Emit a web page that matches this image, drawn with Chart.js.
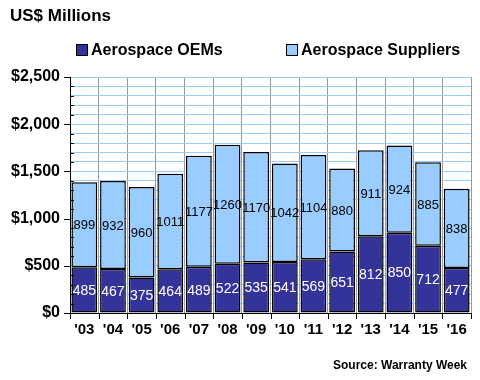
<!DOCTYPE html>
<html>
<head>
<meta charset="utf-8">
<script src="https://cdn.jsdelivr.net/npm/chart.js@4/dist/chart.umd.min.js"></script>
<style>
  html, body { margin: 0; padding: 0; background: #fff; }
  #wrap { position: relative; width: 480px; height: 380px; font-family: Arial, "Liberation Sans", sans-serif; }
  #chart { position: absolute; left: 0; top: 0; }
  .title { position: absolute; left: 10px; top: 6px; font-weight: bold; font-size: 17px; color: #000; }
  .legend { position: absolute; top: 41px; font-weight: bold; font-size: 16px; color: #000; display: flex; align-items: center; }
  .legend span.box { display: inline-block; width: 10px; height: 10px; border: 1px solid #000; margin-right: 3px; }
  .source { position: absolute; left: 333px; top: 358px; font-weight: bold; font-size: 12px; color: #000; }
</style>
</head>
<body>
<div id="wrap">
  <canvas id="chart" width="480" height="380"></canvas>
  <div class="title">US$ Millions</div>
  <div class="legend" style="left:76px"><span class="box" style="background:#333399"></span>Aerospace OEMs</div>
  <div class="legend" style="left:286px"><span class="box" style="background:#99ccff"></span>Aerospace Suppliers</div>
  <div class="source">Source: Warranty Week</div>
</div>
<script>
const years = ["'03", "'04", "'05", "'06", "'07", "'08", "'09", "'10", "'11", "'12", "'13", "'14", "'15", "'16"]
const oems = [485, 467, 375, 464, 489, 522, 535, 541, 569, 651, 812, 850, 712, 477]
const suppliers = [899, 932, 960, 1011, 1177, 1260, 1170, 1042, 1104, 880, 911, 924, 885, 838]
const yMax = 2500

const fontFamily = "Arial, 'Liberation Sans', sans-serif"

// value labels centered in each stacked segment
const segmentLabels = {
  id: "segmentLabels",
  afterDatasetsDraw(chart) {
    const ctx = chart.ctx
    ctx.save()
    ctx.textAlign = "center"
    ctx.textBaseline = "middle"
    chart.data.datasets.forEach((ds, di) => {
      const meta = chart.getDatasetMeta(di)
      meta.data.forEach((bar, i) => {
        const mid = (bar.y + bar.base) / 2
        ctx.fillStyle = di === 0 ? "#ffffff" : "#000000"
        ctx.font = (di === 0 ? "14px " : "13px ") + fontFamily
        ctx.fillText(String(ds.data[i]), bar.x, mid + 1)
      })
    })
    ctx.restore()
  }
}

// axis lines and tick marks in the old spreadsheet style
const axisTicks = {
  id: "axisTicks",
  afterDraw(chart) {
    const { ctx, chartArea: a, scales } = chart
    const y = scales.y
    ctx.save()
    ctx.strokeStyle = "#000"
    ctx.lineWidth = 1
    ctx.beginPath()
    ctx.moveTo(a.left + 0.5, a.top)
    ctx.lineTo(a.left + 0.5, a.bottom + 6)
    ctx.moveTo(a.left, a.bottom + 0.5)
    ctx.lineTo(a.right, a.bottom + 0.5)
    for (let v = 0; v <= yMax; v += 100) {
      const py = Math.round(y.getPixelForValue(v)) + 0.5
      if (v % 500 === 0) {
        ctx.moveTo(a.left - 6, py)
        ctx.lineTo(a.left, py)
      } else {
        ctx.moveTo(a.left, py)
        ctx.lineTo(a.left + 4, py)
      }
    }
    const step = (a.right - a.left) / years.length
    for (let i = 0; i <= years.length; i++) {
      const px = Math.round(a.left + i * step) + 0.5
      ctx.moveTo(px, a.bottom)
      ctx.lineTo(px, a.bottom + 6)
    }
    ctx.stroke()
    ctx.restore()
  }
}

new Chart(document.getElementById("chart"), {
  type: "bar",
  data: {
    labels: years,
    datasets: [
      { label: "Aerospace OEMs", data: oems, backgroundColor: "#333399", borderColor: "#000", borderWidth: 1.5, borderSkipped: false },
      { label: "Aerospace Suppliers", data: suppliers, backgroundColor: "#99ccff", borderColor: "#000", borderWidth: 1.5, borderSkipped: false }
    ]
  },
  options: {
    responsive: false,
    animation: false,
    layout: { padding: { top: 77, right: 9, left: 0, bottom: 33 } },
    plugins: { legend: { display: false }, tooltip: { enabled: false } },
    datasets: { bar: { barPercentage: 0.9, categoryPercentage: 1 } },
    scales: {
      x: {
        stacked: true,
        grid: { display: true, offset: true, color: "#999999", lineWidth: 1, drawTicks: false },
        border: { display: false },
        ticks: { color: "#000", font: { family: fontFamily, size: 15, weight: "bold" }, padding: 8, maxRotation: 0 }
      },
      y: {
        stacked: true,
        min: 0,
        max: yMax,
        afterFit(scale) { scale.width = 70 },
        grid: { color: "#99ccff", lineWidth: 1, drawTicks: false },
        border: { display: false },
        ticks: {
          stepSize: 100,
          autoSkip: false,
          color: "#000",
          padding: 10,
          font: { family: fontFamily, size: 16, weight: "bold" },
          callback: (v) => (v % 500 === 0 ? "$" + v.toLocaleString("en-US") : "")
        }
      }
    }
  },
  plugins: [segmentLabels, axisTicks]
})
</script>
</body>
</html>
